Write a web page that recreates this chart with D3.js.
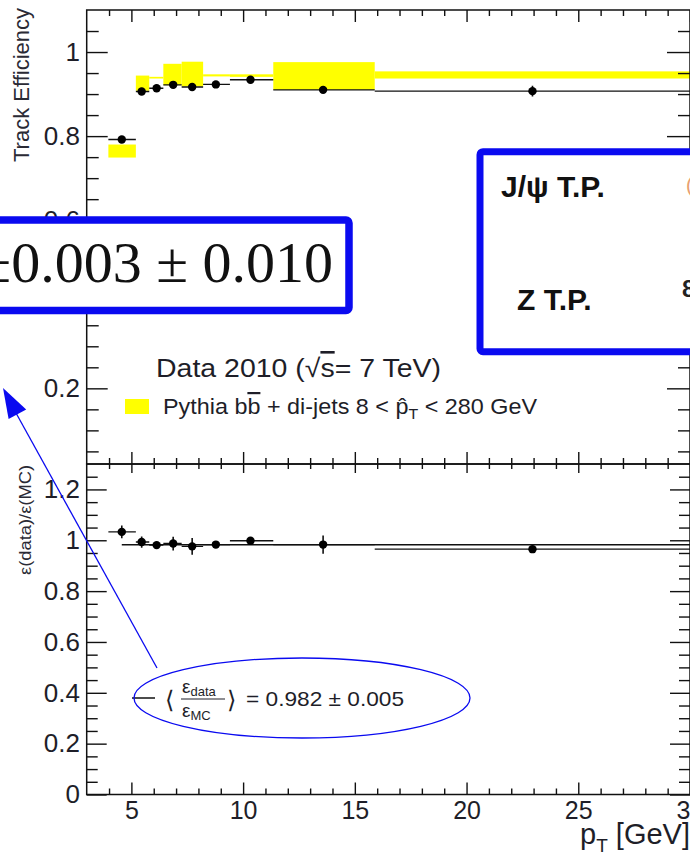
<!DOCTYPE html>
<html><head><meta charset="utf-8">
<script src="https://cdn.jsdelivr.net/npm/d3@7"></script>
<style>
body{margin:0;background:#fff;overflow:hidden}
svg{display:block;font-family:"Liberation Sans",Arial,Helvetica,sans-serif}
</style>
</head><body>
<svg id="c" width="690" height="855"></svg>
<script>
// ---------- data ----------
const binLo     = [3.97, 5.20, 5.80, 6.43, 7.25, 8.21, 9.41, 11.35, 15.89];
const binHi     = [5.20, 5.80, 6.43, 7.25, 8.21, 9.41, 11.35, 15.89, 30.0];
const ptCenter  = [4.57, 5.46, 6.13, 6.87, 7.72, 8.78, 10.33, 13.58, 22.95];
const effData   = [0.792, 0.906, 0.914, 0.922, 0.917, 0.923, 0.934, 0.910, 0.907];
const effErr    = [0.004, 0.004, 0.004, 0.004, 0.004, 0.004, 0.004, 0.004, 0.013];
const mcLo      = [0.749, 0.908, 0.937, 0.921, 0.918, 0.942, 0.941, 0.910, 0.937];
const mcHi      = [0.780, 0.944, 0.941, 0.972, 0.977, 0.947, 0.947, 0.976, 0.954];
const ratio     = [1.033, 0.993, 0.981, 0.987, 0.976, 0.983, 0.998, 0.983, 0.965];
const ratioErr  = [0.025, 0.022, 0.010, 0.027, 0.033, 0.010, 0.010, 0.036, 0.008];
const fitValue  = 0.982;
const fitRange  = [4.57, 30];
const xMajor    = [5, 10, 15, 20, 25, 30];
const xLabels   = ["5", "10", "15", "20", "25", "30"];
const yTopMajor = [0.2, 0.4, 0.6, 0.8, 1.0];
const yBotMajor = [0, 0.2, 0.4, 0.6, 0.8, 1.0, 1.2];

// ---------- layout ----------
const svg = d3.select("#c");
const X0 = 86.7, X1 = 690;
const TOP0 = 10, MID = 464, BOT = 794.5;
const x = d3.scaleLinear().domain([3, 30]).range([X0, X1]);
const yT = d3.scaleLinear().domain([0.02, 1.1]).range([MID, TOP0]);
const yB = d3.scaleLinear().domain([0, 1.3]).range([BOT, MID]);
const xMinor = d3.range(4, 31).filter(v => v % 5 !== 0);
const notMajor = v => Math.abs(v*5 - Math.round(v*5)) > 1e-6;
const yTopMinor = d3.range(0.05, 1.1, 0.05).map(v => +v.toFixed(2)).filter(notMajor);
const yBotMinor = d3.range(0.05, 1.3, 0.05).map(v => +v.toFixed(2)).filter(notMajor);
const fmt = v => String(+v.toFixed(1));
const INK = "#111", LAB = "#1e1e28";
const SANS = '"Liberation Sans",Arial,Helvetica,sans-serif';

const defs = svg.append("defs");
defs.append("clipPath").attr("id", "clipT").append("rect")
  .attr("x", X0).attr("y", TOP0).attr("width", X1 - X0).attr("height", MID - TOP0);
defs.append("clipPath").attr("id", "clipB").append("rect")
  .attr("x", X0).attr("y", MID).attr("width", X1 - X0).attr("height", BOT - MID);

function ax(gen, scale, tx, ty, vals, len, labels, pad, fs) {
  const a = gen(scale).tickValues(vals).tickSizeInner(-len).tickSizeOuter(0).tickPadding(pad || 3);
  a.tickFormat(labels ? labels : () => "");
  const g = svg.append("g").attr("transform", `translate(${tx},${ty})`).call(a);
  g.select(".domain").remove();
  g.attr("font-family", null).attr("font-size", null);
  g.selectAll("line").attr("stroke", INK).attr("stroke-width", 1.4);
  g.selectAll("text").style("font-size", (fs || 26) + "px").attr("fill", LAB).style("font-family", SANS);
  return g;
}

// ---------- upper panel: MC bands ----------
const gT = svg.append("g").attr("clip-path", "url(#clipT)");
gT.selectAll("rect.mc").data(d3.range(binLo.length)).join("rect")
  .attr("x", i => x(binLo[i])).attr("width", i => x(binHi[i]) - x(binLo[i]))
  .attr("y", i => yT(mcHi[i])).attr("height", i => yT(mcLo[i]) - yT(mcHi[i]))
  .attr("fill", "#ffff00");
gT.selectAll("line.xe").data(d3.range(binLo.length)).join("line")
  .attr("x1", i => x(binLo[i])).attr("x2", i => x(binHi[i]))
  .attr("y1", i => yT(effData[i])).attr("y2", i => yT(effData[i]))
  .attr("stroke", INK).attr("stroke-width", 1.4);
gT.selectAll("line.ye").data(d3.range(binLo.length)).join("line")
  .attr("x1", i => x(ptCenter[i])).attr("x2", i => x(ptCenter[i]))
  .attr("y1", i => yT(effData[i] - effErr[i])).attr("y2", i => yT(effData[i] + effErr[i]))
  .attr("stroke", INK).attr("stroke-width", 1.6);
gT.selectAll("circle").data(d3.range(binLo.length)).join("circle")
  .attr("cx", i => x(ptCenter[i])).attr("cy", i => yT(effData[i])).attr("r", 4.2).attr("fill", "#000");

// ---------- lower panel ----------
const gB = svg.append("g").attr("clip-path", "url(#clipB)");
gB.append("line").attr("x1", x(fitRange[0])).attr("x2", x(fitRange[1]))
  .attr("y1", yB(fitValue)).attr("y2", yB(fitValue)).attr("stroke", INK).attr("stroke-width", 1.5);
gB.selectAll("line.xe").data(d3.range(binLo.length)).join("line")
  .attr("x1", i => x(binLo[i])).attr("x2", i => x(binHi[i]))
  .attr("y1", i => yB(ratio[i])).attr("y2", i => yB(ratio[i]))
  .attr("stroke", INK).attr("stroke-width", 1.4);
gB.selectAll("line.ye").data(d3.range(binLo.length)).join("line")
  .attr("x1", i => x(ptCenter[i])).attr("x2", i => x(ptCenter[i]))
  .attr("y1", i => yB(ratio[i] - ratioErr[i])).attr("y2", i => yB(ratio[i] + ratioErr[i]))
  .attr("stroke", INK).attr("stroke-width", 1.6);
gB.selectAll("circle").data(d3.range(binLo.length)).join("circle")
  .attr("cx", i => x(ptCenter[i])).attr("cy", i => yB(ratio[i])).attr("r", 4.2).attr("fill", "#000");

// ---------- axes ----------
ax(d3.axisLeft, yT, X0, 0, yTopMajor, 21, fmt, 6.7, 26);
ax(d3.axisLeft, yT, X0, 0, yTopMinor, 12);
ax(d3.axisRight, yT, X1, 0, yTopMajor, 23);
ax(d3.axisRight, yT, X1, 0, yTopMinor, 12);
ax(d3.axisTop, x, 0, TOP0, xMajor, 12);
ax(d3.axisTop, x, 0, TOP0, xMinor, 6);
ax(d3.axisBottom, x, 0, MID, xMajor, 12);
ax(d3.axisBottom, x, 0, MID, xMinor, 6);
ax(d3.axisLeft, yB, X0, 0, yBotMajor, 20, fmt, 6.7, 26);
ax(d3.axisLeft, yB, X0, 0, yBotMinor, 11);
ax(d3.axisRight, yB, X1, 0, yBotMajor, 20);
ax(d3.axisRight, yB, X1, 0, yBotMinor, 11);
ax(d3.axisTop, x, 0, MID, xMajor, 9);
ax(d3.axisTop, x, 0, MID, xMinor, 5);
ax(d3.axisBottom, x, 0, BOT, xMajor, 12, (d, i) => xLabels[i], 7, 25);
ax(d3.axisBottom, x, 0, BOT, xMinor, 6);

svg.append("rect").attr("x", X0).attr("y", TOP0).attr("width", X1 - X0).attr("height", MID - TOP0)
  .attr("fill", "none").attr("stroke", INK).attr("stroke-width", 1.5);
svg.append("rect").attr("x", X0).attr("y", MID).attr("width", X1 - X0).attr("height", BOT - MID)
  .attr("fill", "none").attr("stroke", INK).attr("stroke-width", 1.5);

// axis titles
svg.append("text").attr("transform", "translate(29,8) rotate(-90)").attr("text-anchor", "end")
  .style("font-size", "22px").attr("fill", "#2a2a35").text("Track Efficiency");
svg.append("text").attr("transform", "translate(31,465) rotate(-90)").attr("text-anchor", "end")
  .style("font-size", "16px").attr("fill", "#2a2a35")
  .attr("textLength", 110).attr("lengthAdjust", "spacingAndGlyphs").text("ε(data)/ε(MC)");
const xt = svg.append("text").attr("x", 690).attr("y", 844).attr("text-anchor", "end")
  .style("font-size", "29px").attr("fill", LAB);
xt.append("tspan").text("p");
xt.append("tspan").style("font-size", "19px").attr("dy", 8).text("T");
xt.append("tspan").attr("dy", -8).text(" [GeV]");

// upper legend
const l1 = svg.append("text").attr("x", 156).attr("y", 377).style("font-size", "26px").attr("fill", LAB)
  .attr("textLength", 285).attr("lengthAdjust", "spacingAndGlyphs");
l1.append("tspan").text("Data 2010 (√");
l1.append("tspan").style("text-decoration", "overline").text("s");
l1.append("tspan").text("= 7 TeV)");
svg.append("rect").attr("x", 125).attr("y", 399).attr("width", 24).attr("height", 15).attr("fill", "#ffff00");
const l2 = svg.append("text").attr("x", 163).attr("y", 414).style("font-size", "22px").attr("fill", LAB)
  .attr("textLength", 374).attr("lengthAdjust", "spacingAndGlyphs");
l2.append("tspan").text("Pythia b");
l2.append("tspan").style("text-decoration", "overline").text("b");
l2.append("tspan").text(" + di-jets 8 < p\u0302");
l2.append("tspan").style("font-size", "15px").attr("dy", 5).text("T");
l2.append("tspan").attr("dy", -5).text(" < 280 GeV");

// lower legend
svg.append("line").attr("x1", 132).attr("x2", 155).attr("y1", 698).attr("y2", 698)
  .attr("stroke", INK).attr("stroke-width", 1.5);
svg.append("text").attr("x", 165).attr("y", 708).style("font-size", "24px").attr("fill", LAB)
  .style("font-family", '"DejaVu Sans",sans-serif').style("font-weight", 200).text("⟨");
const num = svg.append("text").attr("x", 182).attr("y", 693).style("font-size", "19px").attr("fill", LAB);
num.append("tspan").text("ε");
num.append("tspan").style("font-size", "13px").attr("dy", 3).text("data");
svg.append("line").attr("x1", 181).attr("x2", 225).attr("y1", 699).attr("y2", 699)
  .attr("stroke", LAB).attr("stroke-width", 1.2);
const den = svg.append("text").attr("x", 182).attr("y", 717).style("font-size", "19px").attr("fill", LAB);
den.append("tspan").text("ε");
den.append("tspan").style("font-size", "13px").attr("dy", 3).text("MC");
svg.append("text").attr("x", 227).attr("y", 708).style("font-size", "24px").attr("fill", LAB)
  .style("font-family", '"DejaVu Sans",sans-serif').style("font-weight", 200).text("⟩");
svg.append("text").attr("x", 246).attr("y", 706).style("font-size", "21px").attr("fill", LAB)
  .attr("textLength", 158).attr("lengthAdjust", "spacingAndGlyphs").text("= 0.982 ± 0.005");

// annotations: ellipse + arrow
const BLUE = "#0a0af0";
svg.append("ellipse").attr("cx", 302).attr("cy", 698).attr("rx", 168).attr("ry", 40)
  .attr("fill", "none").attr("stroke", BLUE).attr("stroke-width", 1.3);
svg.append("line").attr("x1", 157).attr("y1", 668).attr("x2", 16).attr("y2", 413)
  .attr("stroke", BLUE).attr("stroke-width", 1.3);
svg.append("path").attr("d", "M3,388 L26.2,409.5 L8.6,419.1 Z").attr("fill", BLUE);

// blue boxes
svg.append("rect").attr("x", -20).attr("y", 220).attr("width", 369).attr("height", 90.5).attr("rx", 3)
  .attr("fill", "#fff").attr("stroke", BLUE).attr("stroke-width", 7.5);
svg.append("text").attr("x", 333).attr("y", 282).attr("text-anchor", "end").style("font-size", "58px")
  .style("font-family", '"Liberation Serif","Times New Roman",serif').attr("fill", "#111")
  .text("±0.003 ± 0.010");
svg.append("rect").attr("x", 480).attr("y", 151.7).attr("width", 260).attr("height", 200).attr("rx", 3)
  .attr("fill", "#fff").attr("stroke", BLUE).attr("stroke-width", 7);
svg.append("text").attr("x", 501).attr("y", 197).style("font-size", "30px").style("font-weight", "bold")
  .attr("fill", "#111").text("J/ψ T.P.");
svg.append("text").attr("x", 517).attr("y", 310).style("font-size", "30px").style("font-weight", "bold")
  .attr("fill", "#111").text("Z T.P.");
svg.append("text").attr("x", 686).attr("y", 192).style("font-size", "20px")
  .attr("fill", "#e8a070").text("(");
svg.append("text").attr("x", 682).attr("y", 297).style("font-size", "24px").style("font-weight", "bold")
  .attr("fill", "#222").text("8");
</script>
</body></html>
